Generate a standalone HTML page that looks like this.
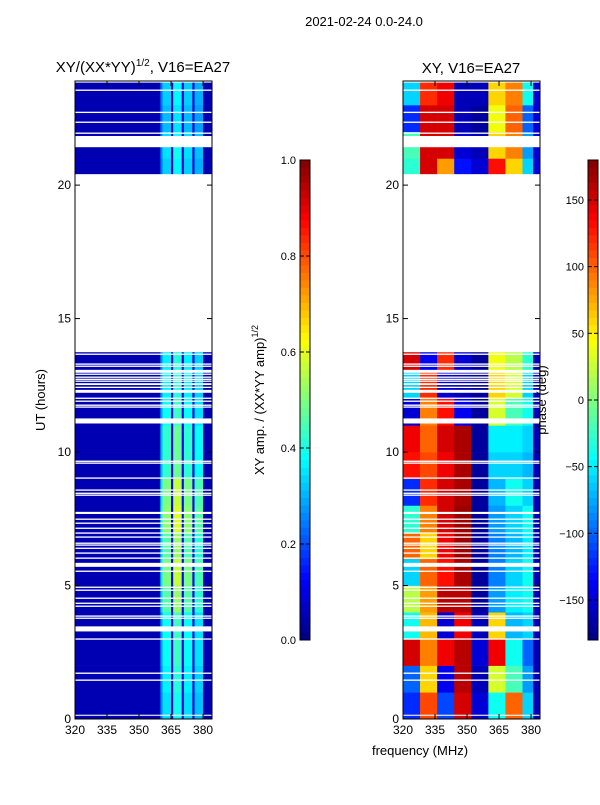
<!DOCTYPE html>
<html><head><meta charset="utf-8"><style>
body{margin:0;background:#fff;}
svg text{font-family:"Liberation Sans",sans-serif;fill:#000;}
</style></head><body>
<svg id="fig" width="600" height="800" viewBox="0 0 600 800" xmlns="http://www.w3.org/2000/svg">
<rect width="600" height="800" fill="#fff"/>
<text x="364" y="26" font-size="13" text-anchor="middle">2021-02-24 0.0-24.0</text>
<text x="143" y="72" font-size="15" text-anchor="middle">XY/(XX*YY)<tspan dy="-6" font-size="10">1/2</tspan><tspan dy="6">, V16=EA27</tspan></text>
<text x="471" y="73" font-size="15" text-anchor="middle">XY, V16=EA27</text>
<text transform="translate(45,400) rotate(-90)" font-size="13" text-anchor="middle">UT (hours)</text>
<text x="420" y="755" font-size="13" text-anchor="middle">frequency (MHz)</text>
<text transform="translate(264,400) rotate(-90)" font-size="13" text-anchor="middle">XY amp. / (XX*YY amp)<tspan dy="-6" font-size="9">1/2</tspan></text>
<g id="left"></g>
<g id="right"></g>
<g id="axes"></g>
<text transform="translate(546,400) rotate(-90)" font-size="13" text-anchor="middle">phase (deg)</text>
</svg>
<script>
const ampFreqEdges=[320,360,361,365,366,370,371,375,376,380,384];
const ampProfile=[0.05,0.3,0.42,0.1,0.48,0.12,0.42,0.1,0.38,0.05];
const ampHourFactor=[0.8,0.85,0.9,0.9,1.1,1.2,1.1,1.25,1.2,1.0,1.0,0.9,0.85,0.85,0,0,0,0,0,0,0.75,0.8,0.7,0.75];
const phaseGroupEdges=[320,328,336,344,352,360,368,376,381,384];
const phaseByHour=[
[-120,110,-110,150,-150,-40,100,-60,-160],
[-100,60,-140,160,-160,30,-20,-80,-160],
[150,90,140,160,-150,140,-40,-100,-160],
[-40,70,-150,140,-160,60,-70,-60,-160],
[20,80,160,160,-170,-80,-50,-40,-160],
[-60,100,130,165,-170,-90,-60,-40,-160],
[100,60,140,170,-170,-90,-70,-50,-160],
[-30,90,150,170,-170,-80,-60,-40,-160],
[-120,120,150,165,-170,-70,-40,-60,-160],
[130,110,140,165,-170,-60,-60,-70,-160],
[140,100,150,165,-170,-50,-50,-60,-160],
[-150,90,130,-140,-170,30,-20,-40,-160],
[-60,120,-150,-160,-170,60,30,-60,-160],
[150,-140,120,-150,-170,40,20,-30,-160],
null,null,null,null,null,null,
[-30,150,80,-130,-150,130,60,-60,-150],
[-20,150,150,-150,-160,60,90,-80,-150],
[-120,150,150,-160,-170,40,100,-100,-150],
[-60,120,140,-160,-160,60,90,-40,-150]];
const gapStart=[0.12,1.43,1.69,2.97,3.28,3.75,3.83,4.2,4.31,4.5,4.8,4.91,5.51,5.7,6.0,6.19,6.37,6.49,6.56,6.79,6.94,7.12,7.31,7.46,7.68,8.36,8.43,8.55,9.0,9.56,9.63,11.07,11.66,11.73,11.88,11.99,12.22,12.40,12.51,12.63,12.70,12.78,12.89,12.97,13.19,13.27,13.64,13.74,21.42,21.92,22.33,22.70,23.53,23.84];
const gapEnd=  [0.16,1.48,1.74,3.02,3.47,3.8,3.88,4.25,4.36,4.55,4.85,4.96,5.56,5.85,6.05,6.24,6.42,6.54,6.61,6.84,6.99,7.17,7.36,7.51,7.76,8.41,8.48,8.6,9.05,9.61,9.68,11.26,11.71,11.78,11.93,12.04,12.33,12.45,12.58,12.68,12.75,12.83,12.94,13.08,13.24,13.32,13.69,20.41,21.84,21.97,22.38,22.75,23.58,23.9];
const ampTicks=[0,0.2,0.4,0.6,0.8,1.0];
const ampTickLabels=["0.0","0.2","0.4","0.6","0.8","1.0"];
const phaseTicks=[-150,-100,-50,0,50,100,150];
const phaseTickLabels=["\u2212150","\u2212100","\u221250","0","50","100","150"];
const xTicks=[320,335,350,365,380];
const yTicks=[0,5,10,15,20];

const NS="http://www.w3.org/2000/svg";
const TOP=81,BOT=719,YMAX=23.9,FMIN=320,FMAX=384.2;
const PW=137;
function yS(h){return BOT-(h/YMAX)*(BOT-TOP);}
function xS(f,x0){return x0+(f-FMIN)/(FMAX-FMIN)*PW;}
function jet(v){v=Math.max(0,Math.min(1,v));
 const r=Math.max(0,Math.min(1,Math.min(4*v-1.5,-4*v+4.5)));
 const g=Math.max(0,Math.min(1,Math.min(4*v-0.5,-4*v+3.5)));
 const b=Math.max(0,Math.min(1,Math.min(4*v+0.5,-4*v+2.5)));
 return `rgb(${Math.round(r*255)},${Math.round(g*255)},${Math.round(b*255)})`;}
function rect(p,x,y,w,h,fill){const r=document.createElementNS(NS,'rect');
 r.setAttribute('x',x);r.setAttribute('y',y);r.setAttribute('width',w);r.setAttribute('height',h);r.setAttribute('fill',fill);p.appendChild(r);return r;}
function line(p,x1,y1,x2,y2,w){const l=document.createElementNS(NS,'line');
 l.setAttribute('x1',x1);l.setAttribute('y1',y1);l.setAttribute('x2',x2);l.setAttribute('y2',y2);l.setAttribute('stroke','#000');l.setAttribute('stroke-width',w||1);p.appendChild(l);return l;}
function text(p,x,y,s,anchor){const t=document.createElementNS(NS,'text');
 t.setAttribute('x',x);t.setAttribute('y',y);t.setAttribute('font-size','12');t.setAttribute('text-anchor',anchor||'middle');t.textContent=s;p.appendChild(t);return t;}

const L=document.getElementById('left'),R=document.getElementById('right'),A=document.getElementById('axes');
const bg=ampProfile[0];
for(let h=0;h<24;h++){
 const fac=ampHourFactor[h]; if(!fac) continue;
 const h1=Math.min(h+1,YMAX);
 for(let i=0;i<ampProfile.length;i++){
  const v=bg+(ampProfile[i]-bg)*fac;
  const x0=xS(ampFreqEdges[i],75),x1=xS(Math.min(ampFreqEdges[i+1],FMAX),75);
  const c=rect(L,x0,yS(h1),x1-x0+0.3,yS(h)-yS(h1)+0.3,jet(v));
  
  
 }
 const row=phaseByHour[h]; if(!row) continue;
 for(let i=0;i<row.length;i++){
  const x0=xS(phaseGroupEdges[i],403),x1=xS(Math.min(phaseGroupEdges[i+1],FMAX),403);
  const c=rect(R,x0,yS(h1),x1-x0+0.3,yS(h)-yS(h1)+0.3,jet((row[i]+180)/360));
  
  
 }
}
for(const x0 of [75,403]){
 for(let i=0;i<gapStart.length;i++){
  const g=rect(x0===75?L:R,x0,yS(gapEnd[i]),PW,yS(gapStart[i])-yS(gapEnd[i]),'#fff');
  
  
 }
 const fr=rect(A,x0,TOP,PW,BOT-TOP,'none');fr.setAttribute('stroke','#000');
 
 
 xTicks.forEach(f=>{const x=xS(f,x0);line(A,x,BOT,x,BOT-5);line(A,x,TOP,x,TOP+5);
  const t=text(A,x,BOT+15,String(f));
  
  });
 yTicks.forEach(h=>{const y=yS(h);line(A,x0,y,x0+5,y);line(A,x0+PW,y,x0+PW-5,y);
  const t=text(A,x0-4,y+4,String(h),'end');
  
  });
}
function colorbar(x0,vmin,vmax,ticks,labels,name){
 const g=document.createElementNS(NS,'g');A.appendChild(g);
 
 
 const y0=160,y1=640,n=64;
 for(let i=0;i<n;i++){const ya=y1-(i+1)*(y1-y0)/n;rect(g,x0,ya,10,(y1-y0)/n+0.4,jet((i+0.5)/n));}
 const f=rect(g,x0,y0,10,y1-y0,'none');f.setAttribute('stroke','#000');
 ticks.forEach((v,i)=>{const y=y1-(v-vmin)/(vmax-vmin)*(y1-y0);line(g,x0,y,x0+4,y);line(g,x0+10,y,x0+6,y);
  const t=text(g,x0-4,y+4,labels[i],'end');t.setAttribute('font-size','11');
  
  });
}
colorbar(300,0,1,ampTicks,ampTickLabels,'amp-colorbar');
colorbar(588,-180,180,phaseTicks,phaseTickLabels,'phase-colorbar');
</script>
</body></html>
